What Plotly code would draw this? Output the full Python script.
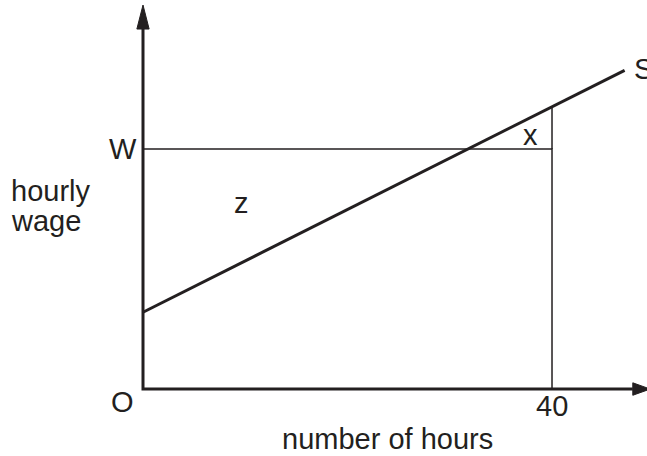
import plotly.graph_objects as go

# ---- data ----
hours_max = 40            # the marked quantity on the x axis
wage_W = 10               # wage level W (arbitrary units)
supply_hours = [0, 47.1]  # supply line S, hours
supply_wage = [3.2, 13.28]  # supply line S, wage
axis_x_end = 49.3
axis_y_end = 16.0

INK = "#231f20"
FONT = "Liberation Sans, Arial, Helvetica, sans-serif"

# supply value at 40 hours (from the line itself)
slope = (supply_wage[1] - supply_wage[0]) / (supply_hours[1] - supply_hours[0])
s_at_max = supply_wage[0] + slope * hours_max

fig = go.Figure()

# axes
fig.add_trace(go.Scatter(x=[0, 0, axis_x_end - 1.4], y=[15.1, 0, 0], mode="lines",
                         line=dict(color=INK, width=3), hoverinfo="skip"))
# arrowheads
fig.add_trace(go.Scatter(x=[-0.6, 0, 0.6, -0.6], y=[15.0, axis_y_end, 15.0, 15.0], mode="lines",
                         fill="toself", fillcolor=INK, line=dict(color=INK, width=1), hoverinfo="skip"))
fig.add_trace(go.Scatter(x=[47.9, axis_x_end + 0.3, 47.9, 47.9], y=[0.26, 0, -0.26, 0.26], mode="lines",
                         fill="toself", fillcolor=INK, line=dict(color=INK, width=1), hoverinfo="skip"))
# W line and vertical at 40
fig.add_trace(go.Scatter(x=[0, hours_max, hours_max], y=[wage_W, wage_W, 0], mode="lines",
                         line=dict(color=INK, width=1.5), hoverinfo="skip"))
fig.add_trace(go.Scatter(x=[hours_max, hours_max], y=[wage_W, s_at_max], mode="lines",
                         line=dict(color=INK, width=1.5), hoverinfo="skip"))
# supply line
fig.add_trace(go.Scatter(x=supply_hours, y=supply_wage, mode="lines",
                         line=dict(color=INK, width=3), hoverinfo="skip"))

def label(x, y, text, xanchor="center", align="center"):
    fig.add_annotation(x=x, y=y, text=text, showarrow=False, xanchor=xanchor, yanchor="middle",
                       align=align, borderpad=0, font=dict(family=FONT, size=29, color=INK))

label(-2.0, wage_W, "W")
label(-13.0, 8.25, "hourly", xanchor="left", align="left")
label(-13.0, 7.0, "wage", xanchor="left", align="left")
label(9.6, 7.75, "z")
label(37.9, 10.6, "x")
label(47.9, 13.33, "S", xanchor="left")
label(-2.05, -0.55, "O")
label(hours_max, -0.72, "40")
label(23.9, -2.1, "number of hours")

fig.update_layout(
    width=647, height=456, margin=dict(l=0, r=0, t=0, b=0),
    paper_bgcolor="white", plot_bgcolor="white", showlegend=False,
    xaxis=dict(range=[-13.985, 49.29], visible=False, fixedrange=True),
    yaxis=dict(range=[-2.79, 16.21], visible=False, fixedrange=True),
)
fig.write_html("out.html", config={"displayModeBar": False},
               post_script="document.body.style.margin='0';document.body.style.overflow='hidden';")
